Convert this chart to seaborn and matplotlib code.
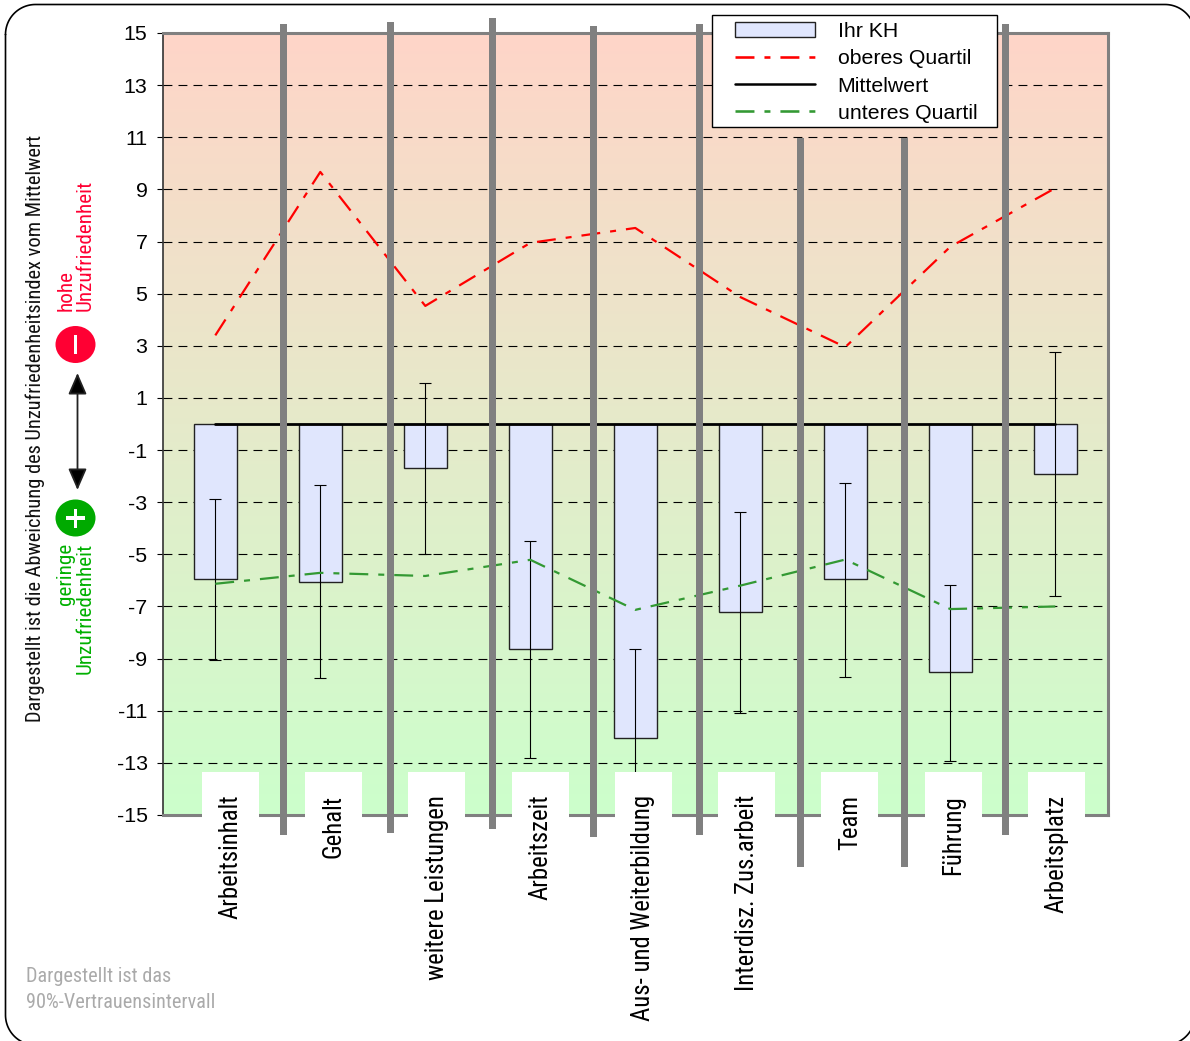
import numpy as np
import seaborn as sns
import matplotlib.pyplot as plt
from matplotlib import font_manager
from matplotlib.colors import LinearSegmentedColormap
from matplotlib.lines import Line2D
from matplotlib.patches import Ellipse, FancyArrowPatch, Patch, Rectangle
from matplotlib.transforms import ScaledTranslation

CATEGORIES = ['Arbeitsinhalt', 'Gehalt', 'weitere Leistungen', 'Arbeitszeit', 'Aus- und Weiterbildung',
              'Interdisz. Zus.arbeit', 'Team', 'Führung', 'Arbeitsplatz']
IHR_KH = [-5.95, -6.05, -1.7, -8.65, -12.05, -7.2, -5.95, -9.5, -1.9]
CI_HIGH = [-2.87, -2.34, 1.57, -4.49, -8.63, -3.37, -2.26, -6.17, 2.76]
CI_LOW = [-9.05, -9.74, -4.98, -12.81, -15.47, -11.08, -9.7, -12.92, -6.6]
OBERES_QUARTIL = [3.4, 9.67, 4.53, 6.95, 7.52, 4.87, 2.95, 6.8, 9.05]
MITTELWERT = [0, 0, 0, 0, 0, 0, 0, 0, 0]
UNTERES_QUARTIL = [-6.13, -5.71, -5.83, -5.21, -7.13, -6.2, -5.2, -7.1, -7.0]
Y_TICKS = list(range(-15, 16, 2))

W, H = 1190, 1041
DPI = 100
BAR_COLOR = '#e0e6fd'
DASHDOT = (0, (8.5, 4.5, 2.7, 4.5))
LEGEND_DASH = (0, (7.3, 3.85, 2.3, 3.85))

available = {f.name for f in font_manager.fontManager.ttflist}
NARROW = next((n for n in ['Roboto Condensed', 'Archivo Narrow'] if n in available), 'Liberation Sans')

sns.set_theme(style='white')
plt.rcParams['font.family'] = ['Liberation Sans', 'DejaVu Sans']

fig = plt.figure(figsize=(W / DPI, H / DPI), dpi=DPI)
ax = fig.add_axes([162.8 / W, 1 - 815 / H, 945 / W, (815 - 33) / H])

# hintergrund rot -> gruen
cmap = LinearSegmentedColormap.from_list('bg', ['#ccffcc', '#ffd5c8'])
ax.imshow(np.linspace(1, 0, 256).reshape(-1, 1), cmap=cmap, aspect='auto', extent=(0, 1, 0, 1),
          transform=ax.transAxes, zorder=0)

sns.barplot(x=CATEGORIES, y=IHR_KH, width=0.404, color=BAR_COLOR, saturation=1, edgecolor='#222222',
            linewidth=1, errorbar=None, ax=ax, zorder=2)

high = np.array(CI_HIGH)
low = np.array(CI_LOW)
vals = np.array(IHR_KH)
ax.errorbar(CATEGORIES, vals, yerr=[vals - low, high - vals], fmt='none', ecolor='black',
            elinewidth=0.8, capsize=4.3, capthick=0.8, zorder=2.2)

sns.lineplot(x=CATEGORIES, y=OBERES_QUARTIL, color='#ff0000', lw=1.6, linestyle=DASHDOT, sort=False,
             errorbar=None, ax=ax, zorder=2.3)
sns.lineplot(x=CATEGORIES, y=UNTERES_QUARTIL, color='#339933', lw=1.6, linestyle=DASHDOT, sort=False,
             errorbar=None, ax=ax, zorder=2.3)
sns.lineplot(x=CATEGORIES, y=MITTELWERT, color='black', lw=2.0, sort=False, errorbar=None, ax=ax, zorder=2.4)

ax.set_xlim(-0.5, 8.5)
ax.set_ylim(-15, 15)
ax.set_yticks(Y_TICKS)
ax.set_yticklabels([str(t) for t in Y_TICKS], fontsize=15.4, color='black')
ax.tick_params(axis='y', length=4.5, width=0.8, color='black', pad=6.5, left=True)
ax.set_axisbelow(True)
ax.grid(axis='y', color='black', lw=0.8, linestyle=(0, (8, 5.5)))
ax.xaxis.set_zorder(5)

# kategorien sitzen im weissen feld, felder laufen etwas enger als die balken
band = 945 / 9
box_step = 103.25
ax.tick_params(axis='x', length=0, pad=-14.5)
for i, label in enumerate(ax.get_xticklabels()):
    label.set(rotation=90, ha='center', va='top', family=NARROW, fontsize=17.8, color='black')
    shift = 15 + i * (box_step - band)
    label.set_transform(label.get_transform() + ScaledTranslation(shift / DPI, 0, fig.dpi_scale_trans))
    ax.add_patch(Rectangle((i + (shift - 28.5) / band, -16), 57 / band, 1 + (815 - 772) / 26.07,
                           facecolor='white', edgecolor='none', clip_on=False, zorder=3))

for side in ['top', 'right', 'bottom']:
    ax.spines[side].set(visible=True, color='#808080', linewidth=2.2)
ax.spines['left'].set(visible=True, color='#333333', linewidth=1.2)

# overlay in pixeln fuer rahmen, trenner, beschriftung
over = fig.add_axes([0, 0, 1, 1], zorder=10)
over.set_xlim(0, W)
over.set_ylim(H, 0)
over.axis('off')
over.patch.set_alpha(0)

# abgerundeter rahmen laeuft rechts und unten aus dem bild
corners = [(35.5, 34.5, 180), (1165, 34.5, 270), (1165, 1015, 0), (35.5, 1015, 90)]
frame = []
for cx, cy, start in corners:
    t = np.radians(np.linspace(start, start + 90, 30))
    frame.append(np.column_stack([cx + 30 * np.cos(t), cy + 30 * np.sin(t)]))
frame = np.vstack(frame + [frame[0][:1]])
over.plot(frame[:, 0], frame[:, 1], color='black', lw=1.2)

separators = [(283, 24, 835), (390, 22, 833), (492, 18, 829), (593, 26, 837), (699, 24, 835),
              (800, 138, 867), (904, 138, 867), (1005, 24, 835)]
for sx, y0, y1 in separators:
    over.add_patch(Rectangle((sx - 3.5, y0), 7, y1 - y0, facecolor='#808080', edgecolor='none'))

over.text(35.5, 722, 'Dargestellt ist die Abweichung des Unzufriedenheitsindex vom Mittelwert', rotation=90,
          ha='center', va='bottom', family=NARROW, fontsize=14.7, color='#111111')
over.text(66, 311, 'hohe', rotation=90, ha='center', va='bottom', family=NARROW, fontsize=15.2, color='#ff0033')
over.text(85, 311, 'Unzufriedenheit', rotation=90, ha='center', va='bottom', family=NARROW, fontsize=15.2,
          color='#ff0033')
over.text(66, 543, 'geringe', rotation=90, ha='center', va='top', family=NARROW, fontsize=15.2, color='#00b000')
over.text(85, 543, 'Unzufriedenheit', rotation=90, ha='center', va='top', family=NARROW, fontsize=15.2,
          color='#00b000')

over.add_patch(Ellipse((75.5, 344.5), 40, 37, facecolor='#ff0033', edgecolor='none'))
over.add_patch(Ellipse((75.5, 518), 40, 37, facecolor='#00aa00', edgecolor='none'))
over.add_patch(Rectangle((73.8, 335), 3.4, 19, facecolor='white', edgecolor='none'))
over.add_patch(Rectangle((66, 516.3), 19, 3.4, facecolor='white', edgecolor='none'))
over.add_patch(Rectangle((73.8, 508.5), 3.4, 19, facecolor='white', edgecolor='none'))
over.add_patch(FancyArrowPatch((77.5, 373), (77.5, 490), arrowstyle='<|-|>,head_length=0.6,head_width=0.26',
                               mutation_scale=22, facecolor='black', edgecolor='#222222', lw=1.3,
                               shrinkA=0, shrinkB=0))

over.text(26, 976, 'Dargestellt ist das', family=NARROW, fontsize=14.6, color='#aaaaaa', ha='left', va='center')
over.text(26, 1003, '90%-Vertrauensintervall', family=NARROW, fontsize=14.6, color='#aaaaaa', ha='left', va='center')

# legende
over.add_patch(Rectangle((712, 15), 285, 112, facecolor='white', edgecolor='black', lw=1, zorder=4))
handles = [
    Patch(facecolor=BAR_COLOR, edgecolor='#222222', lw=1),
    Line2D([], [], color='#ff0000', lw=1.87, linestyle=LEGEND_DASH),
    Line2D([], [], color='black', lw=1.8),
    Line2D([], [], color='#339933', lw=1.87, linestyle=LEGEND_DASH),
]
over.legend(handles, ['Ihr KH', 'oberes Quartil', 'Mittelwert', 'unteres Quartil'], frameon=False,
            loc='upper left', bbox_to_anchor=(727.5 / W, 1 - 15 / H), bbox_transform=fig.transFigure,
            borderaxespad=0, borderpad=0.34, fontsize=15.3, handlelength=3.76, handletextpad=1.08,
            labelspacing=0.385, labelcolor='black').set_zorder(5)

fig.savefig('out.png', dpi=DPI)
